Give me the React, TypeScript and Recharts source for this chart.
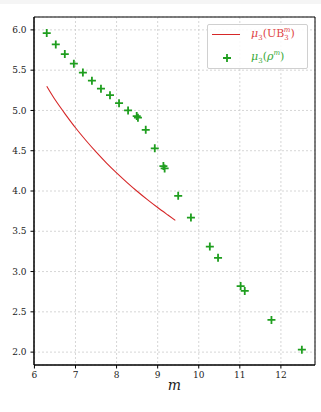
import {
  ComposedChart,
  Line,
  Scatter,
  XAxis,
  YAxis,
  CartesianGrid,
  ReferenceArea
} from "recharts";

// mu_3(UB_3^m) curve
const ubM = [6.3, 6.5, 6.75, 7.0, 7.25, 7.5, 7.75, 8.0, 8.25, 8.5, 8.75, 9.0, 9.25, 9.43];
const ubVal = [5.3, 5.135, 4.955, 4.785, 4.63, 4.485, 4.35, 4.225, 4.108, 3.997, 3.893, 3.795, 3.702, 3.635];

// mu_3(rho^m) points
const rhoM = [
  6.3, 6.52, 6.74, 6.96, 7.18, 7.4, 7.62, 7.84, 8.06, 8.28, 8.49, 8.52, 8.71, 8.93,
  9.14, 9.17, 9.5, 9.81, 10.27, 10.47, 11.02, 11.12, 11.77, 12.51
];
const rhoVal = [
  5.96, 5.82, 5.7, 5.58, 5.47, 5.37, 5.27, 5.19, 5.09, 5.0, 4.93, 4.91, 4.76, 4.53,
  4.31, 4.28, 3.94, 3.67, 3.31, 3.17, 2.82, 2.76, 2.4, 2.03
];

const xTicks = [6, 7, 8, 9, 10, 11, 12];
const yTicks = [2.0, 2.5, 3.0, 3.5, 4.0, 4.5, 5.0, 5.5, 6.0];

const ubData = ubM.map((x, i) => ({ x, y: ubVal[i] }));
const rhoData = rhoM.map((x, i) => ({ x, y: rhoVal[i] }));

const RED = "#d62728";
const GREEN = "#1f9e1f";
const FONT = "'DejaVu Serif', serif";

const Plus = (props: any) => {
  const { cx, cy } = props;
  if (cx == null || cy == null) return null;
  return (
    <path
      d={`M${cx - 4},${cy}H${cx + 4}M${cx},${cy - 4}V${cy + 4}`}
      stroke={GREEN}
      strokeWidth={1.8}
      fill="none"
    />
  );
};

const LegendBox = () => (
  <div
    style={{
      position: "absolute",
      left: 207,
      top: 24,
      width: 101,
      height: 45,
      boxSizing: "border-box",
      border: "1px solid #d0d0d0",
      borderRadius: 2,
      background: "rgba(255,255,255,0.85)",
      fontFamily: FONT,
      fontSize: 11
    }}
  >
    <div style={{ position: "absolute", left: 4, top: 9, width: 28, height: 0, borderTop: `1.3px solid ${RED}` }} />
    <div style={{ position: "absolute", left: 43, top: 1, color: "#e04545", whiteSpace: "nowrap" }}>
      <i>μ</i>
      <sub style={{ fontSize: 7 }}>3</sub>(UB
      <sub style={{ fontSize: 7, marginRight: -5 }}>3</sub>
      <sup style={{ fontSize: 7 }}><i>m</i></sup>)
    </div>
    <svg style={{ position: "absolute", left: 14, top: 28 }} width={10} height={10}>
      <path d="M1,5H9M5,1V9" stroke={GREEN} strokeWidth={1.8} />
    </svg>
    <div style={{ position: "absolute", left: 43, top: 24, color: "#3aaa3a", whiteSpace: "nowrap" }}>
      <i>μ</i>
      <sub style={{ fontSize: 7 }}>3</sub>(<i>ρ</i>
      <sup style={{ fontSize: 7 }}><i>m</i></sup>)
    </div>
  </div>
);

const App = () => {
  return (
    <div style={{ position: "absolute", left: 0, top: 0, width: 321, height: 412, background: "#fff" }}>
      <div style={{ position: "absolute", left: 0, top: 0, width: 321, height: 4, background: "#f5f5f5" }} />
      <ComposedChart
        width={321}
        height={412}
        margin={{ top: 17, right: 6, bottom: 0, left: 0 }}
      >
        <CartesianGrid stroke="#cccccc" strokeDasharray="2 2" strokeWidth={0.8} />
        <XAxis
          dataKey="x"
          type="number"
          domain={[5.99, 12.83]}
          ticks={xTicks}
          allowDataOverflow
          height={47}
          tickSize={3.5}
          tickMargin={3}
          stroke="#000"
          tick={{ fill: "#222", fontSize: 9, fontFamily: FONT }}
          label={{
            value: "m",
            position: "insideBottom",
            offset: 22,
            style: { fontFamily: FONT, fontStyle: "italic", fontSize: 14, fill: "#222" }
          }}
        />
        <YAxis
          dataKey="y"
          type="number"
          domain={[1.84, 6.16]}
          ticks={yTicks}
          allowDataOverflow
          width={34}
          tickSize={3.5}
          tickMargin={4}
          stroke="#000"
          tickFormatter={(v: number) => v.toFixed(1)}
          tick={{ fill: "#222", fontSize: 9, fontFamily: FONT }}
        />
        <ReferenceArea
          x1={5.99}
          x2={12.83}
          y1={1.84}
          y2={6.16}
          fill="none"
          stroke="#000"
          strokeWidth={1}
          ifOverflow="visible"
        />
        <Line
          data={ubData}
          dataKey="y"
          type="natural"
          stroke={RED}
          strokeWidth={1.1}
          dot={false}
          isAnimationActive={false}
        />
        <Scatter data={rhoData} dataKey="y" shape={Plus} isAnimationActive={false} />
      </ComposedChart>
      <LegendBox />
    </div>
  );
};

export default App;
